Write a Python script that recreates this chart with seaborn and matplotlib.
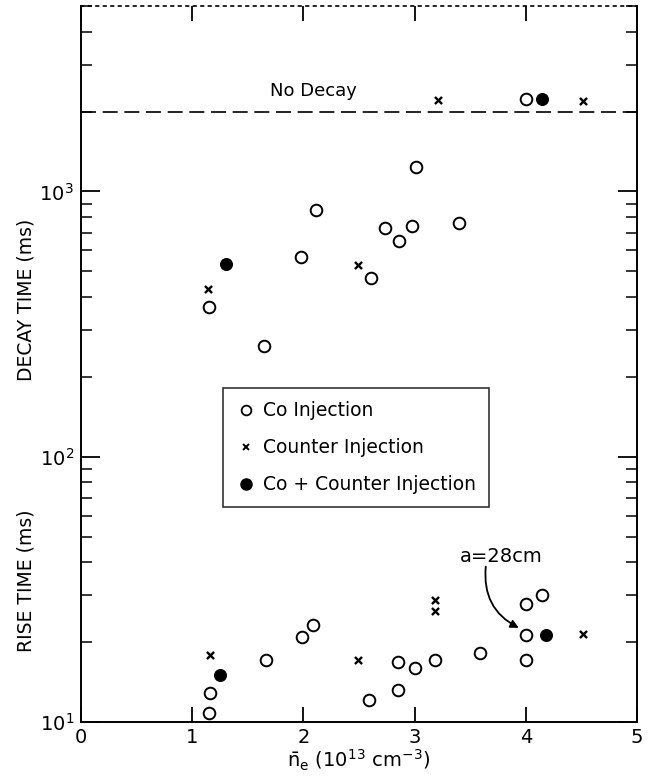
import matplotlib
matplotlib.use("Agg")
import matplotlib.pyplot as plt
import matplotlib.ticker as mticker
import numpy as np
import pandas as pd
import seaborn as sns

# --- data: electron density (1e13 cm^-3) vs. rise / decay times (ms) ---
co_decay_x = [1.15, 1.65, 1.98, 2.11, 2.61, 2.73, 2.86, 2.98, 3.01, 3.40, 4.00]
co_decay_y = [366, 262, 568, 850, 472, 730, 651, 743, 1233, 760, 2230]
counter_decay_x = [1.14, 2.49, 3.21, 4.51]
counter_decay_y = [428, 527, 2220, 2200]
both_decay_x = [1.30, 4.15]
both_decay_y = [532, 2230]

co_rise_x = [1.15, 1.16, 1.66, 1.99, 2.09, 2.59, 2.85, 2.85, 3.00, 3.18, 3.59,
             4.00, 4.00, 4.00, 4.15]
co_rise_y = [10.8, 12.9, 17.1, 21.0, 23.2, 12.1, 13.2, 16.9, 16.0, 17.2, 18.2,
             17.2, 21.3, 27.9, 30.1]
counter_rise_x = [1.16, 2.49, 3.18, 3.18, 4.51]
counter_rise_y = [17.9, 17.2, 26.1, 28.9, 21.4]
both_rise_x = [1.25, 4.18]
both_rise_y = [15.0, 21.3]

no_decay_level = 2000
x_ticks = [0, 1, 2, 3, 4, 5]
y_ticks = [10, 100, 1000]
y_tick_labels = [r"$10^{1}$", r"$10^{2}$", r"$10^{3}$"]
groups = ["Co Injection", "Counter Injection", "Co + Counter Injection"]

sns.set_style("ticks")
plt.rcParams["font.family"] = ["DejaVu Sans"]
plt.rcParams["mathtext.default"] = "regular"
for key in ["text.color", "axes.labelcolor", "xtick.color", "ytick.color", "axes.edgecolor"]:
    plt.rcParams[key] = "black"

rows = []
for xs, ys, g in [(co_decay_x, co_decay_y, groups[0]), (co_rise_x, co_rise_y, groups[0]),
                  (counter_decay_x, counter_decay_y, groups[1]),
                  (counter_rise_x, counter_rise_y, groups[1]),
                  (both_decay_x, both_decay_y, groups[2]), (both_rise_x, both_rise_y, groups[2])]:
    for a, b in zip(xs, ys):
        rows.append({"ne": a, "time": b, "kind": g})
df = pd.DataFrame(rows)

fig = plt.figure(figsize=(6.49, 7.77), dpi=100)
ax = fig.add_axes([0.1248, 0.0708, 0.8567, 0.9215])

styles = {
    groups[0]: dict(marker="o", s=70, facecolor="white", edgecolor="black", linewidth=1.4),
    groups[1]: dict(marker="x", s=26, color="black", linewidth=1.7),
    groups[2]: dict(marker="o", s=70, color="black", edgecolor="black", linewidth=1.0),
}
for g in groups:
    sub = df[df["kind"] == g]
    sns.scatterplot(data=sub, x="ne", y="time", ax=ax, legend=False, zorder=3, **styles[g])

ax.set_yscale("log")
ax.set_xlim(0, 5)
ax.set_ylim(10, 5000)

# "No Decay" reference level
ax.axhline(no_decay_level, color="black", lw=1.2, dashes=(9, 4), zorder=2)
ax.text(2.09, no_decay_level * 1.11, "No Decay", ha="center", va="bottom", fontsize=13)

# legend box drawn from proxy markers
handles = [
    plt.Line2D([], [], ls="none", marker="o", ms=7, mfc="white", mec="black", mew=1.3),
    plt.Line2D([], [], ls="none", marker="x", ms=5, color="black", mew=1.4),
    plt.Line2D([], [], ls="none", marker="o", ms=8, color="black"),
]
leg = ax.legend(handles, groups, loc="center", bbox_to_anchor=(0.495, 0.383),
                frameon=True, fancybox=False, fontsize=13.5, handletextpad=0.4,
                borderpad=0.7, labelspacing=0.95, handlelength=1.0)
leg.get_frame().set_edgecolor("black")
leg.get_frame().set_linewidth(1.2)
for t in leg.get_texts():
    t.set_color("black")

# annotation for the a = 28 cm shot
ax.text(3.78, 42.0, "a=28cm", ha="center", va="center", fontsize=14)
ax.annotate("", xy=(3.96, 22.4), xytext=(3.64, 38.5),
            arrowprops=dict(arrowstyle="-|>", color="black", lw=1.3,
                            shrinkA=0, shrinkB=2, mutation_scale=12,
                            connectionstyle="arc3,rad=0.35"))

ax.set_xticks(x_ticks)
ax.set_xticklabels([str(t) for t in x_ticks], fontsize=14)
ax.set_yticks(y_ticks)
ax.set_yticklabels(y_tick_labels, fontsize=14)
ax.yaxis.set_minor_locator(mticker.LogLocator(base=10, subs=np.arange(2, 10), numticks=20))
ax.yaxis.set_minor_formatter(mticker.NullFormatter())

ax.tick_params(axis="y", which="major", direction="in", length=14, width=1.3,
               left=True, right=True, pad=5)
ax.tick_params(axis="y", which="minor", direction="in", length=8, width=1.1,
               left=True, right=True)
ax.tick_params(axis="x", which="major", direction="in", length=11, width=1.3,
               top=True, bottom=True, pad=4)

for side in ["left", "right", "bottom"]:
    ax.spines[side].set_linewidth(1.4)
ax.spines["top"].set_linewidth(1.2)
ax.spines["top"].set_linestyle((0, (1.5, 3)))

ax.set_xlabel(r"$\bar{n}_e\ (10^{13}\ cm^{-3})$", fontsize=14, labelpad=1)
ax.set_ylabel("")

fig.text(0.04, 0.614, "DECAY TIME (ms)", rotation=90, ha="center", va="center", fontsize=13.5)
fig.text(0.04, 0.252, "RISE TIME (ms)", rotation=90, ha="center", va="center", fontsize=13.5)

fig.savefig("out.png", dpi=100, facecolor="white")
